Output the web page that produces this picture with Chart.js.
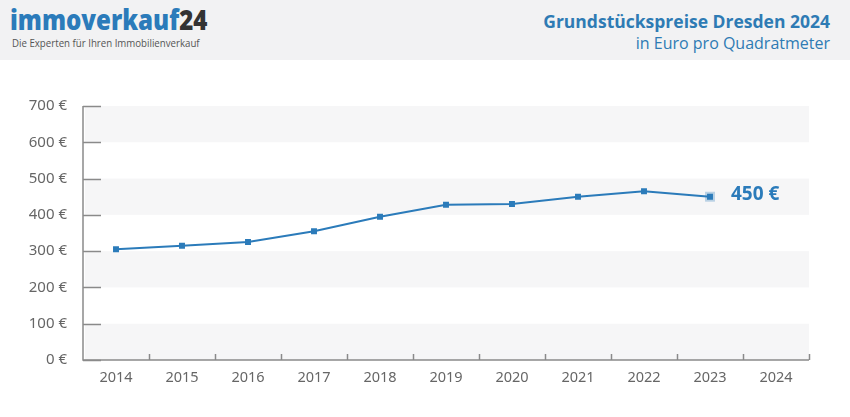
<!DOCTYPE html>
<html>
<head>
<meta charset="utf-8">
<script src="https://cdn.jsdelivr.net/npm/chart.js@4.4.0/dist/chart.umd.min.js"></script>
<style>
  html, body { margin:0; padding:0; background:#fff; }
  body { width:850px; height:417px; position:relative; overflow:hidden; font-family:"Open Sans", sans-serif; }
  #head { position:absolute; left:0; top:0; width:850px; height:60px; background:#f2f2f3; }
  #logo { position:absolute; left:10px; top:4px; font-weight:800; font-size:28px; color:#2b7bba; line-height:30px; transform:scaleX(0.86); transform-origin:left top; white-space:nowrap; }
  #logo span { color:#333; }
  #tag { position:absolute; left:12px; top:35px; font-size:11px; color:#555; transform:scaleX(0.88); transform-origin:left top; white-space:nowrap; }
  #t1 { position:absolute; right:20px; top:9px; font-weight:700; font-size:17.5px; color:#2e7bb4; }
  #t2 { position:absolute; right:20px; top:32px; font-size:16px; color:#2e7bb4; }
  #wrap { position:absolute; left:0; top:60px; width:850px; height:357px; }
</style>
</head>
<body>
<div id="head">
  <div id="logo">immoverkauf<span>24</span></div>
  <div id="tag">Die Experten für Ihren Immobilienverkauf</div>
  <div id="t1">Grundstückspreise Dresden 2024</div>
  <div id="t2">in Euro pro Quadratmeter</div>
</div>
<div id="wrap"><canvas id="c" width="850" height="357"></canvas></div>
<script>
// values
const years = ['2014','2015','2016','2017','2018','2019','2020','2021','2022','2023','2024'];
const prices = [305, 315, 325, 355, 395, 428, 430, 450, 465, 450, null];
const highlight = [null, null, null, null, null, null, null, null, null, 450, null];
const yTicks = [0, 100, 200, 300, 400, 500, 600, 700];
const lastLabel = '450 €';

const blue = '#2b7bba';
const axisCol = '#8a8a8a';

const decor = {
  id: 'decor',
  beforeDatasetsDraw(chart) {
    const { ctx, chartArea: a, scales: { x, y } } = chart;
    ctx.save();
    // alternating bands
    ctx.fillStyle = '#f6f6f7';
    for (let i = 0; i < yTicks.length - 1; i += 2) {
      const top = y.getPixelForValue(yTicks[i + 1]);
      const bot = y.getPixelForValue(yTicks[i]);
      ctx.fillRect(a.left + 2, top, a.right - a.left - 2, bot - top);
    }
    ctx.restore();
  },
  afterDatasetsDraw(chart) {
    const { ctx, chartArea: a, scales: { x, y } } = chart;
    ctx.save();
    ctx.strokeStyle = axisCol;
    ctx.lineWidth = 1.5;
    // axis lines
    ctx.beginPath();
    ctx.moveTo(a.left, y.getPixelForValue(700));
    ctx.lineTo(a.left, a.bottom);
    ctx.lineTo(a.right, a.bottom);
    ctx.stroke();
    // y ticks, pointing inward
    yTicks.forEach(v => {
      const py = Math.round(y.getPixelForValue(v)) + 0.5;
      ctx.beginPath();
      ctx.moveTo(a.left, py);
      ctx.lineTo(a.left + 18, py);
      ctx.stroke();
    });
    // x ticks at category boundaries, pointing up
    for (let i = 1; i <= years.length; i++) {
      const px = Math.round(x.getPixelForValue(i - 0.5)) + 0.5;
      ctx.beginPath();
      ctx.moveTo(px, a.bottom);
      ctx.lineTo(px, a.bottom - 6);
      ctx.stroke();
    }
    // value label for the last point
    const idx = highlight.findIndex(v => v !== null);
    const px = x.getPixelForValue(idx);
    const py = y.getPixelForValue(highlight[idx]);
    ctx.fillStyle = blue;
    ctx.font = 'bold 19px "Open Sans"';
    ctx.textAlign = 'left';
    ctx.textBaseline = 'middle';
    ctx.fillText(lastLabel, px + 21, py - 2);
    ctx.restore();
  }
};

new Chart(document.getElementById('c'), {
  type: 'line',
  data: {
    labels: years,
    datasets: [
      {
        data: prices,
        borderColor: blue,
        backgroundColor: blue,
        borderWidth: 2,
        pointStyle: 'rect',
        pointRadius: 4.2,
        pointBorderWidth: 0,
        tension: 0,
        order: 1
      },
      {
        data: highlight,
        showLine: false,
        pointStyle: 'rect',
        pointRadius: 7,
        pointBorderWidth: 0,
        backgroundColor: 'rgba(43,123,186,0.3)',
        order: 2
      }
    ]
  },
  plugins: [decor],
  options: {
    responsive: false,
    animation: false,
    layout: { padding: { left: 0, right: 41, top: 46, bottom: 15 } },
    plugins: { legend: { display: false }, tooltip: { enabled: false } },
    scales: {
      x: {
        offset: true,
        grid: { display: false },
        border: { display: false },
        afterFit(s) { s.height = 42; },
        ticks: { color: '#666', font: { family: 'Noto Sans', size: 14.5 }, padding: 1 }
      },
      y: {
        min: 0, max: 700,
        afterFit(s) { s.width = 83; },
        grid: { display: false },
        border: { display: false },
        ticks: {
          stepSize: 100,
          color: '#666',
          padding: 8,
          font: { family: 'Noto Sans', size: 15 },
          callback: v => v + ' €'
        }
      }
    }
  }
});
</script>
</body>
</html>
